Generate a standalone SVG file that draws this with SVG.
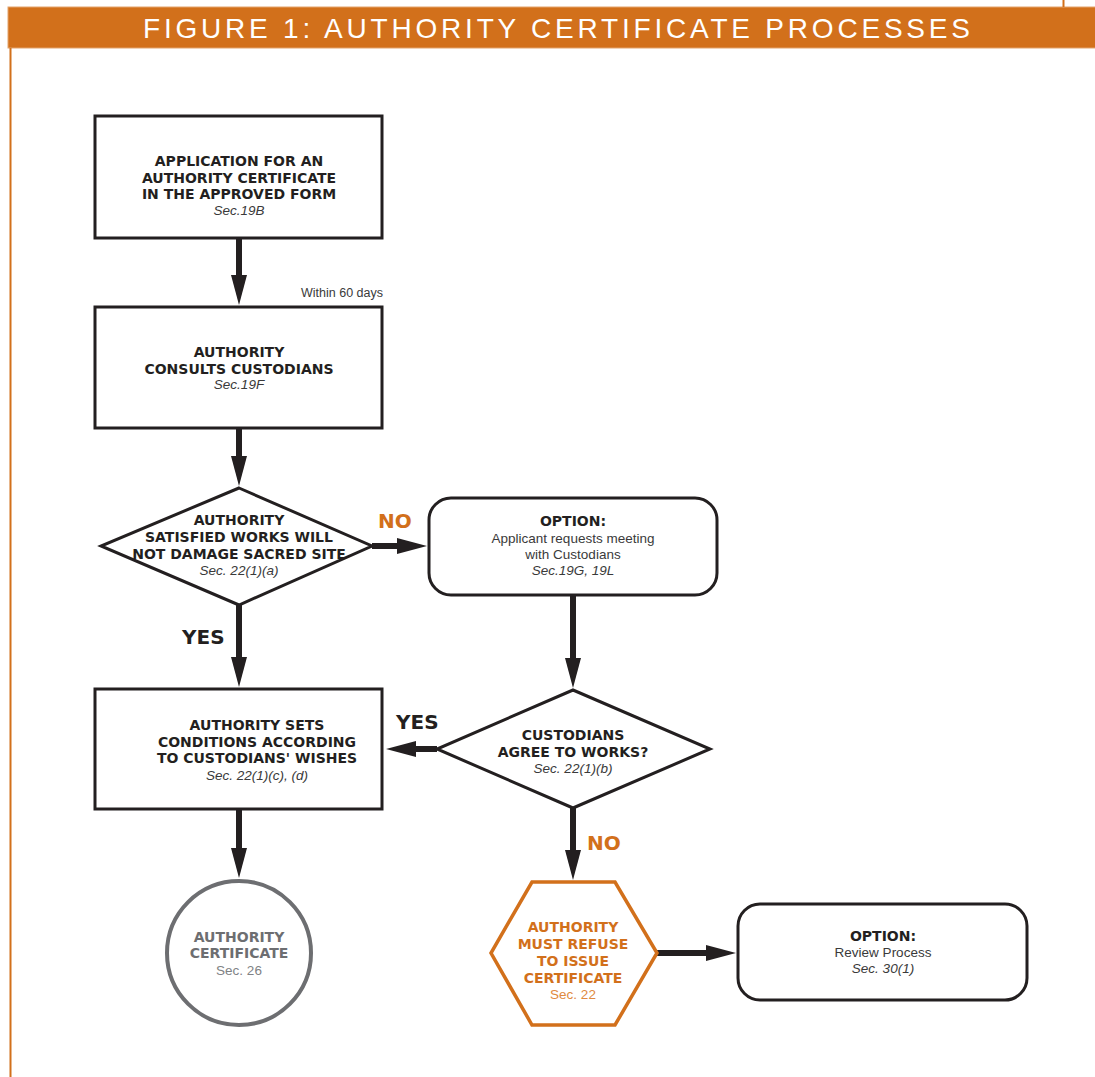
<svg xmlns="http://www.w3.org/2000/svg" width="1095" height="1077" viewBox="0 0 1095 1077">
<style>
.bx{fill:#fff;stroke:#231f20;stroke-width:3}
.t{font-family:"DejaVu Sans","Liberation Sans",Arial,sans-serif;font-weight:bold;font-size:14px;fill:#231f20;text-anchor:middle}
.s{font-family:"Liberation Sans",Arial,sans-serif;font-style:italic;font-size:13.5px;fill:#3a3a3a;text-anchor:middle}
.n{font-family:"Liberation Sans",Arial,sans-serif;font-size:13.5px;fill:#3a3a3a;text-anchor:middle}
.c{stroke:#231f20;stroke-width:6;fill:none;marker-end:url(#ah)}
.lbl{font-family:"DejaVu Sans","Liberation Sans",Arial,sans-serif;font-weight:bold;font-size:20px}
</style>
<defs>
<marker id="ah" viewBox="0 0 30 16" markerWidth="30" markerHeight="16" refX="10" refY="8" orient="auto" markerUnits="userSpaceOnUse">
<path d="M0,0 L30,8 L0,16 Z" fill="#231f20"/>
</marker>
</defs>
<rect width="1095" height="1077" fill="#fff"/>
<g id="header">
<rect x="8" y="7" width="1090" height="41" fill="#d2701b" stroke="#e3a36c" stroke-width="1"/>
<line x1="10.5" y1="48" x2="10.5" y2="1077" stroke="#d2701b" stroke-width="2"/>
<line x1="1063.5" y1="0" x2="1063.5" y2="7" stroke="#d2701b" stroke-width="2"/>
<text x="143" y="38" font-family="Liberation Sans,Arial,sans-serif" font-size="28" fill="#fff" textLength="827" lengthAdjust="spacing">FIGURE 1: AUTHORITY CERTIFICATE PROCESSES</text>
</g>
<g id="connectors">
<line class="c" x1="239" y1="238" x2="239" y2="285"/>
<line class="c" x1="239" y1="428" x2="239" y2="466"/>
<line class="c" x1="239" y1="605" x2="239" y2="667"/>
<line class="c" x1="372" y1="546" x2="407" y2="546"/>
<line class="c" x1="573" y1="595" x2="573" y2="668"/>
<line class="c" x1="437" y1="749" x2="406" y2="749"/>
<line class="c" x1="239" y1="809" x2="239" y2="858"/>
<line class="c" x1="573" y1="808" x2="573" y2="860"/>
<line class="c" x1="657" y1="953" x2="716" y2="953"/>
<text x="383" y="297" class="n" style="text-anchor:end;font-size:12.5px">Within 60 days</text>
<text x="378" y="528" class="lbl" fill="#d2701b">NO</text>
<text x="182" y="644" class="lbl" fill="#231f20">YES</text>
<text x="396" y="729" class="lbl" fill="#231f20">YES</text>
<text x="587" y="850" class="lbl" fill="#d2701b">NO</text>
</g>
<g id="n1">
<rect class="bx" x="95" y="116" width="287" height="122"/>
<text class="t" x="239" y="166">APPLICATION FOR AN</text>
<text class="t" x="239" y="183">AUTHORITY CERTIFICATE</text>
<text class="t" x="239" y="199">IN THE APPROVED FORM</text>
<text class="s" x="239" y="215">Sec.19B</text>
</g>
<g id="n2">
<rect class="bx" x="95" y="307" width="287" height="121"/>
<text class="t" x="239" y="357">AUTHORITY</text>
<text class="t" x="239" y="374">CONSULTS CUSTODIANS</text>
<text class="s" x="239" y="389">Sec.19F</text>
</g>
<g id="n3">
<polygon class="bx" points="239,488 372,546 239,605 101,546"/>
<text class="t" x="239" y="525">AUTHORITY</text>
<text class="t" x="239" y="542">SATISFIED WORKS WILL</text>
<text class="t" x="239" y="559">NOT DAMAGE SACRED SITE</text>
<text class="s" x="239" y="575">Sec. 22(1)(a)</text>
</g>
<g id="n4">
<rect class="bx" x="429" y="498" width="288" height="97" rx="22"/>
<text class="t" x="573" y="526">OPTION:</text>
<text class="n" x="573" y="543">Applicant requests meeting</text>
<text class="n" x="573" y="559">with Custodians</text>
<text class="s" x="573" y="575">Sec.19G, 19L</text>
</g>
<g id="n5">
<polygon class="bx" points="573,690 710,749 573,808 437,749"/>
<text class="t" x="573" y="740">CUSTODIANS</text>
<text class="t" x="573" y="757">AGREE TO WORKS?</text>
<text class="s" x="573" y="773">Sec. 22(1)(b)</text>
</g>
<g id="n6">
<rect class="bx" x="95" y="689" width="287" height="120"/>
<text class="t" x="257" y="730">AUTHORITY SETS</text>
<text class="t" x="257" y="747">CONDITIONS ACCORDING</text>
<text class="t" x="257" y="763">TO CUSTODIANS' WISHES</text>
<text class="s" x="257" y="780">Sec. 22(1)(c), (d)</text>
</g>
<g id="n7">
<circle cx="239" cy="953" r="72" fill="#fff" stroke="#6d6e71" stroke-width="4"/>
<text class="t" x="239" y="942" style="fill:#6d6e71">AUTHORITY</text>
<text class="t" x="239" y="958" style="fill:#6d6e71">CERTIFICATE</text>
<text class="n" x="239" y="975" style="fill:#808285">Sec. 26</text>
</g>
<g id="n8">
<polygon points="532,882 615,882 657,953 615,1025 532,1025 491,953" fill="#fff" stroke="#d2701b" stroke-width="3.5"/>
<text class="t" x="573" y="932" style="fill:#d2701b">AUTHORITY</text>
<text class="t" x="573" y="949" style="fill:#d2701b">MUST REFUSE</text>
<text class="t" x="573" y="966" style="fill:#d2701b">TO ISSUE</text>
<text class="t" x="573" y="983" style="fill:#d2701b">CERTIFICATE</text>
<text class="n" x="573" y="999" style="fill:#e08a3e">Sec. 22</text>
</g>
<g id="n9">
<rect class="bx" x="738" y="904" width="289" height="96" rx="22"/>
<text class="t" x="883" y="941">OPTION:</text>
<text class="n" x="883" y="957">Review Process</text>
<text class="s" x="883" y="973">Sec. 30(1)</text>
</g>
</svg>
